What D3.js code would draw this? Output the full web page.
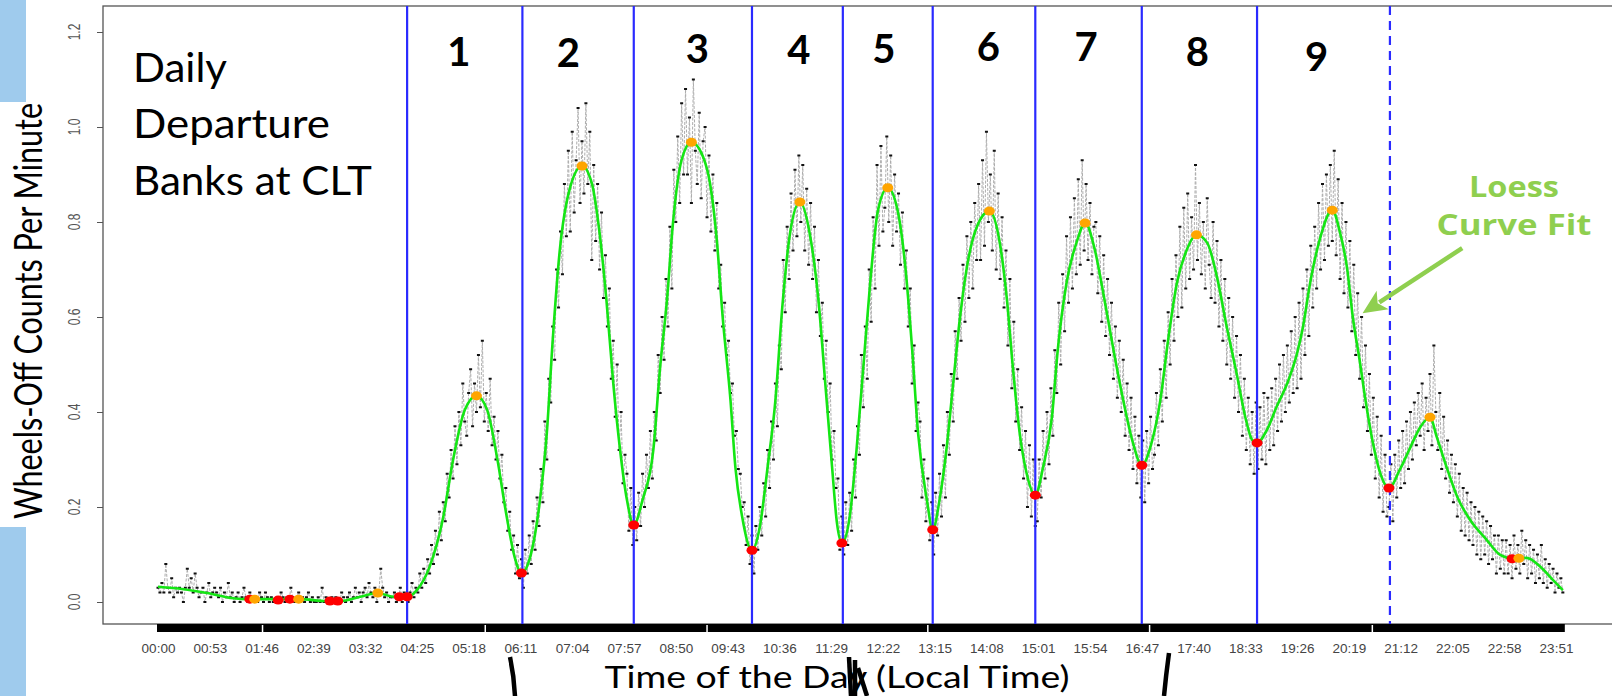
<!DOCTYPE html>
<html><head><meta charset="utf-8">
<script src="https://cdn.jsdelivr.net/npm/d3@7"></script>
<style>body{margin:0;background:#fff;}svg{display:block}</style>
</head><body>
<svg id="c" width="1612" height="696"></svg>
<script>
// ---------------- DATA ----------------
const xTickLabels = ["00:00","00:53","01:46","02:39","03:32","04:25","05:18","06:11","07:04","07:57","08:50","09:43","10:36","11:29","12:22","13:15","14:08","15:01","15:54","16:47","17:40","18:33","19:26","20:19","21:12","22:05","22:58","23:51"];
const yTicks = [0,0.2,0.4,0.6,0.8,1.0,1.2];

// observed wheels-off counts per minute (hundredths), every 2 minutes from 00:00 (one row per hour)
const obsHundredths = [
3,2,4,2,8,3,2,5,1,3,2,3,2,0,3,7,3,5,2,6,3,1,2,3,0,2,4,1,2,3,
2,1,3,0,2,1,4,1,2,0,1,2,0,1,3,1,0,2,1,0,1,0,2,1,0,2,1,0,1,0,
0,1,0,2,1,0,1,0,3,1,0,1,2,0,1,0,1,2,0,1,0,0,1,0,3,0,1,0,0,1,
0,1,0,0,2,1,0,1,2,0,1,3,1,2,0,2,3,1,4,2,1,3,0,2,7,3,1,2,0,1,
1,2,0,1,3,0,2,1,0,2,4,1,3,2,6,3,7,4,9,6,12,8,15,10,19,13,21,17,27,22,
32,26,37,29,40,33,46,38,35,44,49,37,46,40,52,41,55,38,44,36,47,33,39,30,36,26,31,21,24,15,
19,11,14,6,12,5,9,3,11,6,14,8,17,11,22,16,28,21,38,30,47,42,58,51,70,62,78,69,88,77,
95,78,99,82,93,104,84,97,86,105,88,99,72,92,76,88,70,82,64,73,58,66,47,55,39,50,32,40,25,31,
27,15,24,12,20,13,23,16,27,20,31,24,36,26,40,34,52,44,60,51,68,58,79,66,91,80,98,84,105,90,
108,90,102,84,110,95,88,103,85,97,100,81,94,78,90,74,84,66,71,58,63,52,55,44,46,35,36,28,27,20,
21,12,18,8,14,6,16,11,20,14,25,18,32,24,38,30,46,37,54,49,72,61,79,68,86,74,91,77,94,80,
92,74,87,71,84,68,79,61,72,56,63,47,55,40,46,30,36,24,26,11,18,10,21,12,23,15,30,22,37,31,
52,41,58,47,70,59,81,66,92,75,96,78,83,98,80,94,75,90,78,86,71,82,66,74,58,66,46,54,36,42,
38,22,30,17,26,13,21,10,23,14,27,18,33,22,40,31,48,38,57,47,64,55,71,59,77,64,80,66,84,72,
88,72,93,75,99,80,90,74,95,70,86,68,81,62,74,54,68,45,59,38,49,32,41,26,36,20,33,18,30,16,
17,30,22,36,26,40,29,45,35,53,44,63,50,69,57,77,63,81,66,85,69,89,71,93,74,88,72,84,69,79,
80,65,77,59,73,56,68,52,63,47,58,43,55,40,51,35,46,32,43,28,39,25,35,22,34,21,36,25,39,28,
31,44,33,49,38,55,43,61,50,68,55,73,60,79,62,83,66,86,68,81,70,92,72,84,69,80,66,85,71,64,
80,63,76,58,72,55,68,50,64,47,60,43,56,40,52,35,47,32,43,29,40,27,42,28,41,30,44,29,43,32,
45,33,47,36,50,38,52,40,54,42,57,44,60,45,63,47,66,52,70,56,75,62,79,66,84,70,88,72,90,75,
92,76,95,73,89,68,84,65,80,62,76,57,71,52,65,47,60,41,54,36,48,31,43,26,39,22,35,19,31,18,
20,29,17,31,22,34,24,36,25,38,28,40,30,42,33,44,35,46,32,43,36,48,33,54,40,32,44,28,39,26,
34,23,31,21,29,18,27,15,24,14,23,13,21,12,20,10,19,9,18,10,17,8,16,9,14,6,14,7,13,6,
13,6,12,5,14,7,12,6,15,8,13,5,12,6,11,4,10,5,12,4,9,3,8,4,7,2,6,3,5,2];
const obsStepMinutes = 2;

// loess fit [minute, value]
const loessCurve = [[0,0.032],[26,0.027],[50,0.019],[77,0.008],[91,0.006],[118,0.006],[145,0.006],[173,0.002],[186,0.002],[207,0.011],[225,0.019],[241,0.011],[255,0.011],[265,0.025],[278,0.074],[292,0.179],[302,0.299],[314,0.404],[326,0.434],[337,0.404],[347,0.305],[357,0.179],[365,0.095],[372,0.061],[381,0.095],[391,0.215],[398,0.356],[404,0.55],[411,0.735],[422,0.874],[434,0.918],[444,0.882],[452,0.777],[459,0.636],[466,0.461],[473,0.320],[480,0.215],[487,0.162],[496,0.215],[507,0.320],[514,0.495],[521,0.636],[527,0.795],[536,0.931],[546,0.968],[558,0.937],[565,0.882],[572,0.762],[578,0.600],[586,0.425],[591,0.284],[598,0.179],[608,0.109],[616,0.158],[624,0.284],[632,0.425],[639,0.62],[647,0.777],[657,0.842],[667,0.777],[676,0.636],[683,0.461],[690,0.284],[695,0.166],[700,0.124],[708,0.179],[715,0.320],[722,0.495],[729,0.672],[737,0.825],[747,0.872],[757,0.825],[765,0.705],[772,0.531],[778,0.356],[787,0.215],[793,0.152],[800,0.215],[807,0.320],[814,0.461],[821,0.600],[828,0.705],[838,0.789],[851,0.823],[862,0.752],[869,0.636],[875,0.495],[882,0.356],[889,0.272],[898,0.225],[906,0.284],[915,0.389],[921,0.531],[930,0.672],[941,0.762],[949,0.798],[959,0.741],[967,0.657],[978,0.531],[988,0.425],[998,0.335],[1007,0.288],[1017,0.335],[1026,0.425],[1034,0.552],[1043,0.672],[1053,0.741],[1063,0.773],[1074,0.756],[1084,0.684],[1094,0.579],[1104,0.482],[1113,0.389],[1120,0.341],[1125,0.335],[1135,0.362],[1145,0.411],[1156,0.461],[1166,0.524],[1172,0.579],[1179,0.668],[1189,0.762],[1202,0.825],[1210,0.777],[1217,0.705],[1223,0.600],[1230,0.509],[1236,0.425],[1243,0.341],[1251,0.272],[1260,0.240],[1271,0.278],[1282,0.326],[1292,0.368],[1302,0.389],[1309,0.347],[1319,0.284],[1330,0.221],[1343,0.173],[1360,0.131],[1374,0.099],[1387,0.091],[1401,0.093],[1415,0.074],[1428,0.046],[1438,0.025]];

// local maxima (orange) and minima (red) of the fit [minute, value]
const peaks = [[99,0.006],[144,0.006],[225,0.019],[326,0.434],[434,0.918],[546,0.968],[657,0.842],[747,0.872],[851,0.823],[949,0.798],[1063,0.773],[1202,0.825],[1302,0.389],[1393,0.092]];
const troughs = [[94,0.006],[123,0.004],[135,0.006],[176,0.002],[184,0.002],[247,0.011],[255,0.011],[372,0.061],[487,0.162],[608,0.109],[700,0.124],[793,0.152],[898,0.225],[1007,0.288],[1125,0.335],[1260,0.240],[1386,0.091]];

// bank boundaries (minutes)
const bankBounds = [255,373,487,608,701,793,898,1007,1125];
const lastBound = [1261];
const bankNames = ["1","2","3","4","5","6","7","8","9"];
const bankLabelMinute = [308,420,552,656,743,850,950,1064,1186];
const bankLabelValue = [1.128,1.126,1.135,1.133,1.135,1.139,1.139,1.128,1.118];
const axisBarGaps = [107,335,562,788,1015,1243];

// ---------------- CHART ----------------
const svg = d3.select("#c");
const x = d3.scaleLinear().domain([0,1431]).range([158,1556]);
const y = d3.scaleLinear().domain([0,1.2]).range([602,32]);
const box = {l:103,t:6,r:1630,b:624};
const parseHM = s => +s.slice(0,2)*60 + +s.slice(3);

// slide decorations
svg.append("rect").attr("x",0).attr("y",0).attr("width",26).attr("height",102).attr("fill","#9fcbed");
svg.append("rect").attr("x",0).attr("y",527).attr("width",26).attr("height",169).attr("fill","#9fcbed");

// plot box
svg.append("rect").attr("x",box.l).attr("y",box.t).attr("width",box.r-box.l).attr("height",box.b-box.t)
  .attr("fill","none").attr("stroke","#555").attr("stroke-width",1.3);

// y axis ticks
const gy = svg.append("g").attr("transform",`translate(${box.l},0)`)
  .call(d3.axisLeft(y).tickValues(yTicks).tickSize(6).tickFormat(""));
gy.select(".domain").remove();
gy.selectAll(".tick line").attr("stroke","#555");
svg.append("g").selectAll("text").data(yTicks).join("text")
  .attr("transform",d=>`translate(80,${y(d)}) scale(1.35,1) rotate(-90)`)
  .attr("text-anchor","middle").attr("font-family","Liberation Sans, Arial, sans-serif")
  .attr("font-size",12).attr("fill","#555").text(d=>d3.format(".1f")(d));

// x axis: black bar of minute ticks + labels
const xTickMin = xTickLabels.map(parseHM);
svg.append("rect").attr("x",x(0)-1).attr("y",box.b).attr("width",x(1439)-x(0)+2).attr("height",8).attr("fill","#000");
svg.append("g").selectAll("line").data(axisBarGaps).join("line")
  .attr("x1",d=>x(d)).attr("x2",d=>x(d)).attr("y1",box.b+1).attr("y2",box.b+8)
  .attr("stroke","#fff").attr("stroke-width",1.5);
const gx = svg.append("g").attr("transform",`translate(0,${box.b+8})`)
  .call(d3.axisBottom(x).tickValues(xTickMin).tickSize(0).tickFormat((d,i)=>xTickLabels[i]));
gx.select(".domain").remove();
gx.selectAll(".tick text").attr("y",21).attr("dy",0)
  .attr("font-family","Liberation Sans, Arial, sans-serif").attr("font-size",13.5).attr("fill","#444");

// observations
const obs = obsHundredths.map((v,i)=>({t:i*obsStepMinutes, v:v/100}));
svg.append("path").datum(obs)
  .attr("d",d3.line().x(d=>x(d.t)).y(d=>y(d.v)))
  .attr("fill","none").attr("stroke","#adadad").attr("stroke-width",1).attr("stroke-dasharray","3,1.5");
svg.append("g").selectAll("rect").data(obs).join("rect")
  .attr("x",d=>x(d.t)-1.5).attr("y",d=>y(d.v)-1).attr("width",3).attr("height",2).attr("fill","#111");

// loess curve
svg.append("path").datum(loessCurve)
  .attr("d",d3.line().curve(d3.curveMonotoneX).x(d=>x(d[0])).y(d=>y(d[1])))
  .attr("fill","none").attr("stroke","#14e614").attr("stroke-width",2.6);

// bank boundaries
svg.append("g").selectAll("line").data(bankBounds).join("line")
  .attr("x1",d=>x(d)).attr("x2",d=>x(d)).attr("y1",box.t).attr("y2",box.b)
  .attr("stroke","#2a2aff").attr("stroke-width",2.2);
svg.append("g").selectAll("line").data(lastBound).join("line")
  .attr("x1",d=>x(d)).attr("x2",d=>x(d)).attr("y1",box.t).attr("y2",box.b)
  .attr("stroke","#2a2aff").attr("stroke-width",2.2).attr("stroke-dasharray","9,6");

// markers
svg.append("g").selectAll("ellipse").data(troughs).join("ellipse")
  .attr("cx",d=>x(d[0])).attr("cy",d=>y(d[1])).attr("rx",5.5).attr("ry",4.5).attr("fill","#ff0000");
svg.append("g").selectAll("ellipse").data(peaks).join("ellipse")
  .attr("cx",d=>x(d[0])).attr("cy",d=>y(d[1])).attr("rx",5.5).attr("ry",4.5).attr("fill","#ffa500");

// bank numbers
svg.append("g").selectAll("text").data(bankNames).join("text")
  .attr("x",(d,i)=>x(bankLabelMinute[i])).attr("y",(d,i)=>y(bankLabelValue[i]))
  .attr("text-anchor","middle").attr("font-family","Lato, sans-serif").attr("font-weight",700)
  .attr("font-size",40).attr("fill","#000").text(d=>d);

// title block
const tt = [["Daily",82,94],["Departure",138,197],["Banks at CLT",195,239]];
svg.append("g").selectAll("text").data(tt).join("text")
  .attr("x",133).attr("y",d=>d[1]).attr("textLength",d=>d[2]).attr("lengthAdjust","spacingAndGlyphs")
  .attr("font-family","Lato, sans-serif").attr("font-size",40).attr("fill","#000").text(d=>d[0]);

// axis titles
svg.append("text").attr("transform","translate(42,311) scale(1.22,1) rotate(-90)")
  .attr("text-anchor","middle").attr("font-family","Lato, sans-serif").attr("font-size",32)
  .attr("textLength",416).attr("lengthAdjust","spacingAndGlyphs").attr("fill","#000")
  .text("Wheels-Off Counts Per Minute");
svg.append("text").attr("x",837).attr("y",688).attr("text-anchor","middle")
  .attr("font-family","Lato, sans-serif").attr("font-size",30)
  .attr("textLength",465).attr("lengthAdjust","spacingAndGlyphs").attr("fill","#000")
  .text("Time of the Day (Local Time)");

// loess annotation
const green = "#8fcf4f";
svg.append("text").attr("x",x(1388)).attr("y",y(0.853)).attr("text-anchor","middle")
  .attr("font-family","Open Sans, sans-serif").attr("font-weight",700).attr("font-size",28)
  .attr("textLength",90).attr("lengthAdjust","spacingAndGlyphs").attr("fill",green).text("Loess");
svg.append("text").attr("x",x(1388)).attr("y",y(0.773)).attr("text-anchor","middle")
  .attr("font-family","Open Sans, sans-serif").attr("font-weight",700).attr("font-size",28)
  .attr("textLength",155).attr("lengthAdjust","spacingAndGlyphs").attr("fill",green).text("Curve Fit");
const tail=[x(1335),y(0.745)], tip=[x(1233),y(0.608)];
const dx=tip[0]-tail[0], dy=tip[1]-tail[1], L=Math.hypot(dx,dy), ux=dx/L, uy=dy/L;
const bx=tip[0]-24*ux, by=tip[1]-24*uy;
svg.append("line").attr("x1",tail[0]).attr("y1",tail[1]).attr("x2",bx+4*ux).attr("y2",by+4*uy)
  .attr("stroke",green).attr("stroke-width",4.5);
svg.append("polygon").attr("points",[[tip[0],tip[1]],[bx-uy*11,by+ux*11],[bx+6*ux,by+6*uy],[bx+uy*11,by-ux*11]].map(p=>p.join(",")).join(" "))
  .attr("fill",green);

// slide bracket marks
const marks = ["M510,657 Q514,676 515,696","M849,657 L851,696","M855,660 L855,696","M858,668 L867,696","M1169,653 Q1166,675 1164,696"];
svg.append("g").selectAll("path").data(marks).join("path").attr("d",d=>d)
  .attr("fill","none").attr("stroke","#000").attr("stroke-width",4.5);
</script>
</body></html>
